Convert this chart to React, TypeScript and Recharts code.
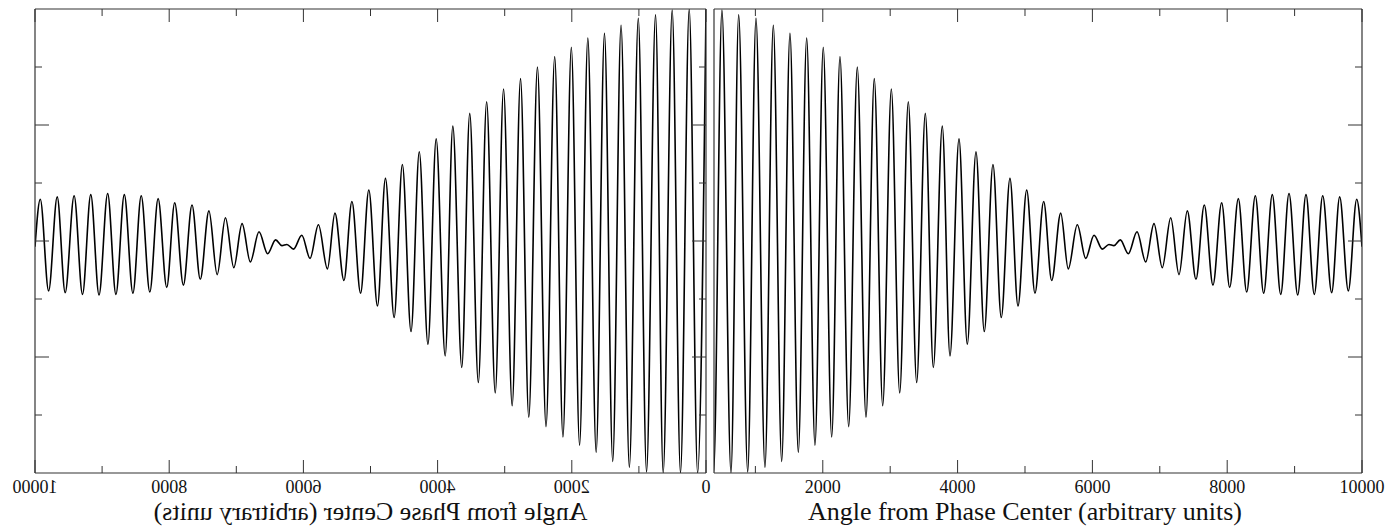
import React from 'react';
import { LineChart, Line, XAxis, YAxis, Label } from 'recharts';

// Fringe pattern: positions of successive maxima/minima
// (arbitrary angle units) and their values (y axis runs from -2 to 2).
const angles = [
  0, 125, 250, 380, 504, 638, 752, 886, 1009, 1142,
  1266, 1390, 1513, 1637, 1761, 1884, 2007, 2132, 2255, 2384,
  2512, 2641, 2764, 2889, 3017, 3141, 3269, 3393, 3521, 3640,
  3773, 3887, 4021, 4144, 4273, 4396, 4525, 4648, 4777, 4896,
  5025, 5148, 5277, 5396, 5530, 5642, 5776, 5901, 6024, 6147,
  6246, 6320, 6414, 6533, 6662, 6791, 6914, 7037, 7162, 7285,
  7408, 7537, 7660, 7789, 7918, 8037, 8165, 8289, 8417, 8541,
  8669, 8794, 8917, 9046, 9169, 9292, 9417, 9550, 9669, 9797,
  9921, 10000,
];
const amplitudes = [
  2.0, -2.0, 2.0, -2.0, 1.99, -2.0, 1.95, -1.99, 1.92, -1.95,
  1.86, -1.9, 1.79, -1.82, 1.75, -1.76, 1.67, -1.69, 1.59, -1.6,
  1.5, -1.52, 1.4, -1.42, 1.31, -1.31, 1.2, -1.22, 1.1, -1.09,
  0.99, -0.99, 0.88, -0.89, 0.77, -0.78, 0.66, -0.66, 0.54, -0.56,
  0.44, -0.45, 0.34, -0.34, 0.24, -0.24, 0.14, -0.15, 0.05, -0.07,
  -0.03, -0.04, 0.01, -0.11, 0.08, -0.18, 0.15, -0.23, 0.2, -0.29,
  0.26, -0.33, 0.31, -0.38, 0.33, -0.4, 0.365, -0.44, 0.39, -0.45,
  0.4, -0.46, 0.41, -0.465, 0.4, -0.46, 0.39, -0.445, 0.38, -0.43,
  0.36, -0.05,
];

const xTicksAll = [0, 1000, 2000, 3000, 4000, 5000, 6000, 7000, 8000, 9000, 10000];
const xTicksNoZero = [1000, 2000, 3000, 4000, 5000, 6000, 7000, 8000, 9000, 10000];
const yTicks = [-1.5, -1, -0.5, 0, 0.5, 1, 1.5];
const axisTitle = 'Angle from Phase Center (arbitrary units)';

const data = angles.map((a, i) => ({ angle: a, value: amplitudes[i] }));

const FONT = 'Liberation Serif, Times New Roman, Times, serif';
const INK = '#111';
const FRAME = '#333';

const isMajorX = (v: number) => v % 2000 === 0;
const isMajorY = (v: number) => Number.isInteger(v);

const BottomTick = (props: any) => {
  const { x, y, payload } = props;
  const major = isMajorX(payload.value);
  return (
    <g>
      <line x1={x} x2={x} y1={y} y2={y - (major ? 13 : 7)} stroke={FRAME} strokeWidth={1} />
      {major && (
        <text x={x} y={y + 20} textAnchor="middle" fontSize={18} fontFamily={FONT} fill={INK}>
          {payload.value}
        </text>
      )}
    </g>
  );
};

const TopTick = (props: any) => {
  const { x, y, payload } = props;
  const major = isMajorX(payload.value);
  return <line x1={x} x2={x} y1={y} y2={y + (major ? 13 : 7)} stroke={FRAME} strokeWidth={1} />;
};

const LeftTick = (props: any) => {
  const { x, y, payload } = props;
  const major = isMajorY(payload.value);
  return <line x1={x} x2={x + (major ? 14 : 7)} y1={y} y2={y} stroke={FRAME} strokeWidth={1} />;
};

const RightTick = (props: any) => {
  const { x, y, payload } = props;
  const major = isMajorY(payload.value);
  return <line x1={x} x2={x - (major ? 14 : 7)} y1={y} y2={y} stroke={FRAME} strokeWidth={1} />;
};

const makeTitle = (shift: number) => (props: any) => {
  const vb = props.viewBox || { x: 0, y: 0, width: 0, height: 0 };
  return (
    <text
      x={vb.x + vb.width / 2 + shift}
      y={vb.y + 47}
      textAnchor="middle"
      fontSize={26}
      fontFamily={FONT}
      fill={INK}
    >
      {axisTitle}
    </text>
  );
};

type PanelProps = {
  width: number;
  margin: { top: number; right: number; bottom: number; left: number };
  domainStart: number;
  xTicks: number[];
  leftTicks: boolean;
  titleShift: number;
};

const FringePanel = ({ width, margin, domainStart, xTicks, leftTicks, titleShift }: PanelProps) => (
  <LineChart width={width} height={530} data={data} margin={margin} style={{ overflow: 'visible' }}>
    <XAxis
      xAxisId="b"
      dataKey="angle"
      type="number"
      orientation="bottom"
      domain={[domainStart, 10000]}
      allowDataOverflow
      ticks={xTicks}
      interval={0}
      height={1}
      tickSize={0}
      tickMargin={0}
      tickLine={false}
      tick={<BottomTick />}
      axisLine={{ stroke: FRAME, strokeWidth: 1.2 }}
    >
      <Label content={makeTitle(titleShift)} />
    </XAxis>
    <XAxis
      xAxisId="t"
      dataKey="angle"
      type="number"
      orientation="top"
      domain={[domainStart, 10000]}
      allowDataOverflow
      ticks={xTicks}
      interval={0}
      height={1}
      tickSize={0}
      tickMargin={0}
      tickLine={false}
      tick={<TopTick />}
      axisLine={{ stroke: FRAME, strokeWidth: 1.2 }}
    />
    <YAxis
      yAxisId="l"
      type="number"
      orientation="left"
      domain={[-2, 2]}
      allowDataOverflow
      ticks={yTicks}
      interval={0}
      width={1}
      tickSize={0}
      tickMargin={0}
      tickLine={false}
      tick={leftTicks ? <LeftTick /> : false}
      axisLine={{ stroke: FRAME, strokeWidth: 1.2 }}
    />
    <YAxis
      yAxisId="r"
      type="number"
      orientation="right"
      domain={[-2, 2]}
      allowDataOverflow
      ticks={yTicks}
      interval={0}
      width={1}
      tickSize={0}
      tickMargin={0}
      tickLine={false}
      tick={<RightTick />}
      axisLine={{ stroke: FRAME, strokeWidth: 1.2 }}
    />
    <Line
      xAxisId="b"
      yAxisId="l"
      type="monotone"
      dataKey="value"
      stroke="#000"
      strokeWidth={1.6}
      dot={false}
      activeDot={false}
      isAnimationActive={false}
    />
  </LineChart>
);

export default function App() {
  return (
    <div style={{ position: 'absolute', left: 0, top: 0, width: 1387, height: 530, background: '#fff', overflow: 'hidden' }}>
      <div style={{ position: 'absolute', left: 700, top: 0, width: 687, height: 530 }}>
        <FringePanel
          width={687}
          margin={{ top: 8, right: 24, bottom: 56, left: 13 }}
          domainStart={386}
          xTicks={xTicksNoZero}
          leftTicks={false}
          titleShift={-13}
        />
      </div>
      <div
        style={{
          position: 'absolute',
          left: 0,
          top: 0,
          width: 712,
          height: 530,
          background: '#fff',
          transform: 'scaleX(-1)',
        }}
      >
        <FringePanel
          width={712}
          margin={{ top: 8, right: 34, bottom: 56, left: 5 }}
          domainStart={0}
          xTicks={xTicksAll}
          leftTicks={true}
          titleShift={0}
        />
      </div>
    </div>
  );
}
